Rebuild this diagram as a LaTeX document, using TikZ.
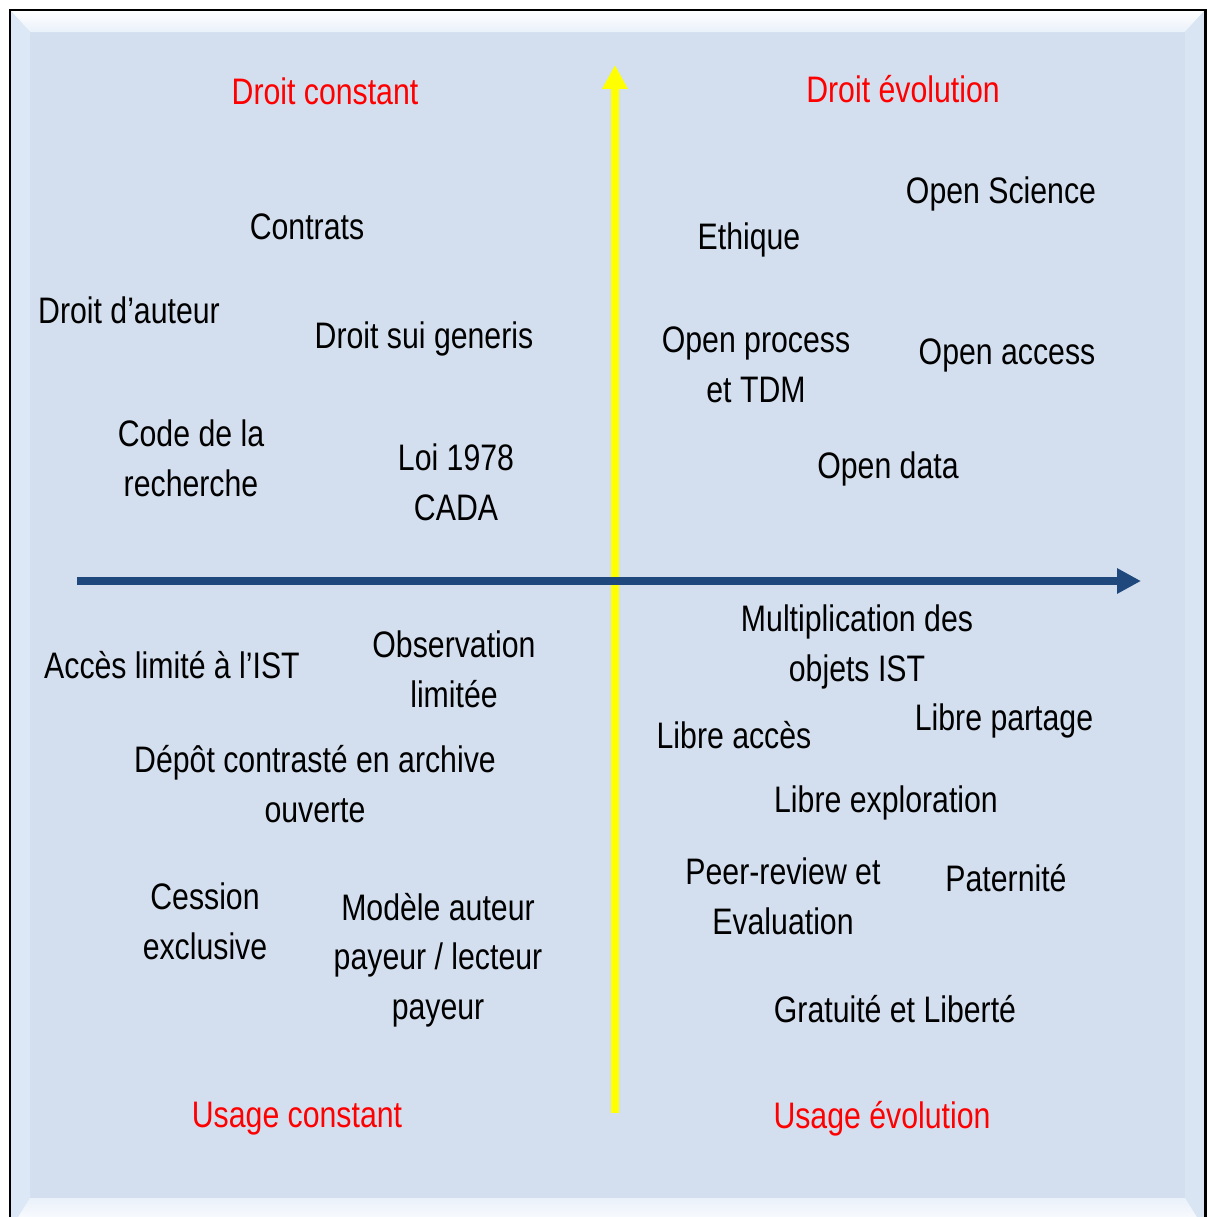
\documentclass[tikz,border=0pt]{standalone}
\usepackage{fontspec}
\setmainfont{Liberation Sans}[FakeStretch=0.82]
\usetikzlibrary{arrows.meta}

\definecolor{panel}{HTML}{D3DFEE}
\definecolor{bevel}{HTML}{DDE8F7}
\definecolor{axisblue}{HTML}{1F497D}
\definecolor{axisyellow}{HTML}{FFFF00}

\begin{document}
\begin{tikzpicture}[x=0.02cm, y=-0.02cm, inner sep=0pt]
    \tikzstyle{lbl}=[align=center, text=black, font=\fontsize{21}{28.3}\selectfont]
    \tikzstyle{head}=[lbl, text=red]
    \tikzstyle{axe}=[line width=0.16cm, -{Triangle[length=0.48cm,width=0.48cm]}]

    \useasboundingbox (0,0) rectangle (1208,1217);
    % panel with bevel
    \fill[panel] (10,10) rectangle (1205,1230);
    \shade[top color=white, bottom color=bevel!60!white] (10,10) -- (1205,10) -- (1185,32) -- (30,32) -- cycle;
    \fill[bevel] (10,10) -- (30,32) -- (30,1198) -- (10,1230) -- cycle;
    \fill[bevel!70!panel] (1205,10) -- (1185,32) -- (1185,1198) -- (1205,1230) -- cycle;
    \shade[top color=bevel!60!white, bottom color=white] (30,1198) -- (1185,1198) -- (1205,1230) -- (10,1230) -- cycle;
    \draw[black, line width=0.06cm] (10,1230) -- (10,10) -- (1205,10) -- (1205,1230);

    % axes
    \coordinate (ybot) at (615,1113);
    \coordinate (ytop) at (615,65);
    \coordinate (xl) at (77,581);
    \coordinate (xr) at (1141,581);
    \draw[axe, axisyellow] (ybot) to (ytop);
    \draw[axe, axisblue] (xl) to (xr);

    % titles
    \node[head] (dc) at (325,91) {Droit constant};
    \node[head] (de) at (903,89) {Droit évolution};
    \node[head] (uc) at (297,1119) {Usage constant};
    \node[head] (ue) at (882,1119) {Usage évolution};

    % droit constant
    \node[lbl] (contrats) at (307,227) {Contrats};
    \node[lbl] (auteur) at (129,310) {Droit d’auteur};
    \node[lbl] (sui) at (424,339) {Droit sui generis};
    \node[lbl] (code) at (191,458) {Code de la\\recherche};
    \node[lbl] (loi) at (456,482) {Loi 1978\\CADA};

    % droit evolution
    \node[lbl] (science) at (1001,194) {Open Science};
    \node[lbl] (ethique) at (749,240) {Ethique};
    \node[lbl] (process) at (756,365) {Open process\\et TDM};
    \node[lbl] (access) at (1007,355) {Open access};
    \node[lbl] (data) at (888,469) {Open data};

    % usage constant
    \node[lbl] (limite) at (172,665) {Accès limité à l’IST};
    \node[lbl] (obs) at (454,669) {Observation\\limitée};
    \node[lbl] (depot) at (315,784) {Dépôt contrasté en archive\\ouverte};
    \node[lbl] (cession) at (205,921) {Cession\\exclusive};
    \node[lbl] (modele) at (438,960) {Modèle auteur\\payeur / lecteur\\payeur};

    % usage evolution
    \node[lbl] (multi) at (857,647) {Multiplication des\\objets IST};
    \node[lbl] (lacces) at (734,735) {Libre accès};
    \node[lbl] (partage) at (1004,721) {Libre partage};
    \node[lbl] (explo) at (886,803) {Libre exploration};
    \node[lbl] (peer) at (783,896) {Peer-review et\\Evaluation};
    \node[lbl] (pater) at (1006,878) {Paternité};
    \node[lbl] (gratuit) at (895,1009) {Gratuité et Liberté};
\end{tikzpicture}
\end{document}
